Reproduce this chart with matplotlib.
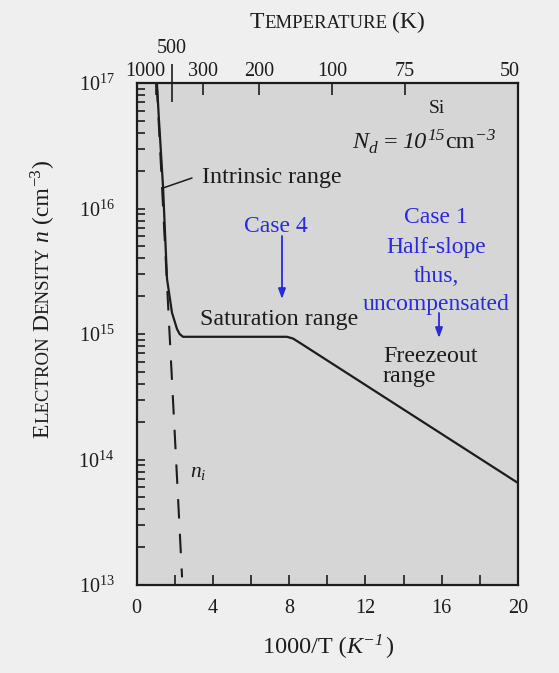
import matplotlib
matplotlib.use('Agg')
import matplotlib.pyplot as plt
from matplotlib.ticker import LogLocator, NullFormatter, LogFormatterMathtext, FixedLocator, FixedFormatter
from matplotlib.transforms import ScaledTranslation, IdentityTransform

# ---------------- data ----------------
inv_T_curve = [1.06, 1.17, 1.38, 1.59, 1.85, 2.11, 2.25, 2.43, 4.0, 6.0, 7.88, 8.2, 8.56, 20.0]
n_curve = [1e17, 5e16, 1.5e16, 2.75e15, 1.48e15, 1.1e15, 1.0e15, 9.5e14, 9.5e14, 9.5e14, 9.5e14, 9.2e14,
           8.5e14, 6.5e13]
inv_T_ni = [1.05, 1.64, 2.10, 2.38]
n_i = [1e17, 1.78e15, 7.9e13, 1.15e13]

bottom_ticks = [0, 4, 8, 12, 16, 20]
bottom_minor = [2, 6, 10, 14, 18]
top_labels = ['1000', '300', '200', '100', '75', '50']
top_pos = [0.99, 3.46, 6.44, 10.26, 14.08, 20.0]
top_minor_labels = ['500']
top_minor_pos = [1.83]

# ---------------- style ----------------
W, H = 559, 673
plt.rcParams['font.family'] = ['Liberation Serif', 'DejaVu Serif']
plt.rcParams['mathtext.fontset'] = 'custom'
plt.rcParams['mathtext.rm'] = 'Liberation Serif'
plt.rcParams['mathtext.it'] = 'Liberation Serif:italic'
plt.rcParams['mathtext.bf'] = 'Liberation Serif:bold'
plt.rcParams['lines.scale_dashes'] = False
TXT = '#1c1c1c'
BLUE = '#2a2ad8'
FIG_BG = '#efefef'
AX_BG = '#d6d6d6'

fig = plt.figure(figsize=(W / 100, H / 100), dpi=100, facecolor=FIG_BG)
left, right, top, bottom = 136.7, 518.0, 83.0, 585.0
ax = fig.add_axes([left / W, 1 - bottom / H, (right - left) / W, (bottom - top) / H])
ax.set_facecolor(AX_BG)

ax.plot(inv_T_curve, n_curve, color=TXT, lw=1.6, solid_joinstyle='round')
ax.plot(inv_T_ni, n_i, color=TXT, lw=1.5, dashes=(14, 11))

ax.set_yscale('log')
ax.set_xlim(0, 20)
ax.set_ylim(1e13, 1e17)

ax.yaxis.set_major_locator(LogLocator(base=10, numticks=10))
ax.yaxis.set_minor_locator(LogLocator(base=10, subs=range(2, 10), numticks=50))
ax.yaxis.set_major_formatter(LogFormatterMathtext())
ax.yaxis.set_minor_formatter(NullFormatter())
ax.xaxis.set_major_locator(FixedLocator(bottom_ticks))
ax.xaxis.set_minor_locator(FixedLocator(bottom_minor))

ax.tick_params(axis='y', which='both', direction='in', length=5.5, width=1.2, left=True, right=False,
               labelsize=14.5, pad=16, colors=TXT)
ax.tick_params(axis='x', which='both', direction='in', length=7, width=1.2, top=False, bottom=True,
               labelsize=14.5, pad=10, colors=TXT)
for s in ax.spines.values():
    s.set_linewidth(1.6)
    s.set_color(TXT)

# top temperature axis
ax2 = ax.twiny()
ax2.set_xlim(0, 20)
ax2.xaxis.set_major_locator(FixedLocator(top_pos))
ax2.xaxis.set_major_formatter(FixedFormatter(top_labels))
ax2.xaxis.set_minor_locator(FixedLocator(top_minor_pos))
ax2.xaxis.set_minor_formatter(FixedFormatter(top_minor_labels))
ax2.tick_params(axis='x', which='major', direction='in', length=8.5, width=1.2, labelsize=14.5, pad=1.5,
                colors=TXT)
ax2.tick_params(axis='x', which='minor', direction='inout', length=27, width=1.2, labelsize=14.5, pad=4.5,
                colors=TXT)
for s in ax2.spines.values():
    s.set_visible(False)

for lab in ax2.xaxis.get_majorticklabels():
    if lab.get_text() == '1000':
        lab.set_transform(lab.get_transform() + ScaledTranslation(-10 / 100, 0, fig.dpi_scale_trans))
    if lab.get_text() == '50':
        lab.set_transform(lab.get_transform() + ScaledTranslation(-8 / 100, 0, fig.dpi_scale_trans))


def P(px, py):
    return (px, H - py)


def note(s, px, py, size=17.3, color=TXT, ha='left', style='normal'):
    ax.annotate(s, xy=P(px, py), xycoords='figure pixels', fontsize=size, color=color, ha=ha,
                va='baseline', style=style, annotation_clip=False)


def arrow(px, py0, py1, color=BLUE):
    ax.annotate('', xy=P(px, py1), xycoords='figure pixels', xytext=P(px, py0), textcoords='figure pixels',
                arrowprops=dict(arrowstyle='-|>,head_length=0.6,head_width=0.22', color=color, lw=1.3,
                                shrinkA=0, shrinkB=0), annotation_clip=False)


def compose(pieces, x, y, rotation=0, align='center', color=TXT):
    """Place text pieces one after another along the baseline (display pixels)."""
    r = fig.canvas.get_renderer()
    texts, adv = [], []
    for s, size, style, gap, dy in pieces:
        t = fig.text(0, 0, s, fontsize=size, style=style, color=color, rotation=rotation,
                     rotation_mode='anchor', ha='left', va='baseline')
        t.set_transform(IdentityTransform())
        bb = t.get_window_extent(r)
        w = bb.width if rotation == 0 else bb.height
        texts.append((t, dy))
        adv.append(w + gap)
    total = sum(adv) - pieces[-1][3]
    start = (x if rotation == 0 else y)
    if align == 'center':
        start -= total / 2
    pos = start
    for (t, dy), a in zip(texts, adv):
        if rotation == 0:
            t.set_position((pos, y + dy))
        else:
            t.set_position((x - dy, pos))
        pos += a


# annotations
note('Si', 437, 113, size=14, ha='center')
compose([('N', 17.5, 'italic', 0, 0), ('d', 12.5, 'italic', 7, -5), ('=', 17.5, 'normal', 5, 0),
         ('10', 17.5, 'italic', 0.5, 0), ('15', 12.5, 'italic', 0.5, 8), ('cm', 17.5, 'normal', 0.5, 0),
         ('\u22123', 12.5, 'italic', 0, 8)], 352, H - 148, align='left')
note('Intrinsic range', 202, 183)
ax.annotate('', xy=P(163, 188), xycoords='figure pixels', xytext=P(192, 178), textcoords='figure pixels',
            arrowprops=dict(arrowstyle='-', color=TXT, lw=1.1, shrinkA=0, shrinkB=0))
note('Saturation range', 200, 325)
note('Freezeout', 383, 362)
note('range', 383, 382)
note(r'$n_i$', 190, 477, size=15.5)

note('Case 4', 276, 232, color=BLUE, ha='center', size=17)
arrow(282, 236, 299)
note('Case 1', 436, 223, color=BLUE, ha='center', size=17)
note('Half-slope', 436, 253, color=BLUE, ha='center', size=17)
note('thus,', 436, 282, color=BLUE, ha='center', size=17)
note('uncompensated', 436, 310, color=BLUE, ha='center', size=17)
arrow(439, 313, 338)

# x label
compose([('1000/T (', 17.5, 'normal', 0.5, 0), ('K', 17.5, 'italic', 0.5, 0),
         ('\u22121', 12.5, 'italic', 1.5, 8), (')', 17.5, 'normal', 0, 0)], 328, H - 653)

# small-caps style axis titles
compose([('T', 17, 'normal', 0.5, 0), ('EMPERATURE', 13.5, 'normal', 5, 0), ('(K)', 17, 'normal', 0, 0)],
        337, H - 28.3)
compose([('E', 17, 'normal', 0.5, 0), ('LECTRON', 13.5, 'normal', 5, 0), ('D', 17, 'normal', 0.5, 0),
         ('ENSITY', 13.5, 'normal', 5, 0), ('n', 17, 'italic', 7, 0), ('(cm', 17, 'normal', 0.5, 0),
         ('\u22123', 12, 'normal', 0.5, 8), (')', 17, 'normal', 0, 0)],
        48.3, H - 299, rotation=90)

fig.savefig('out.png', dpi=100, facecolor=FIG_BG)
